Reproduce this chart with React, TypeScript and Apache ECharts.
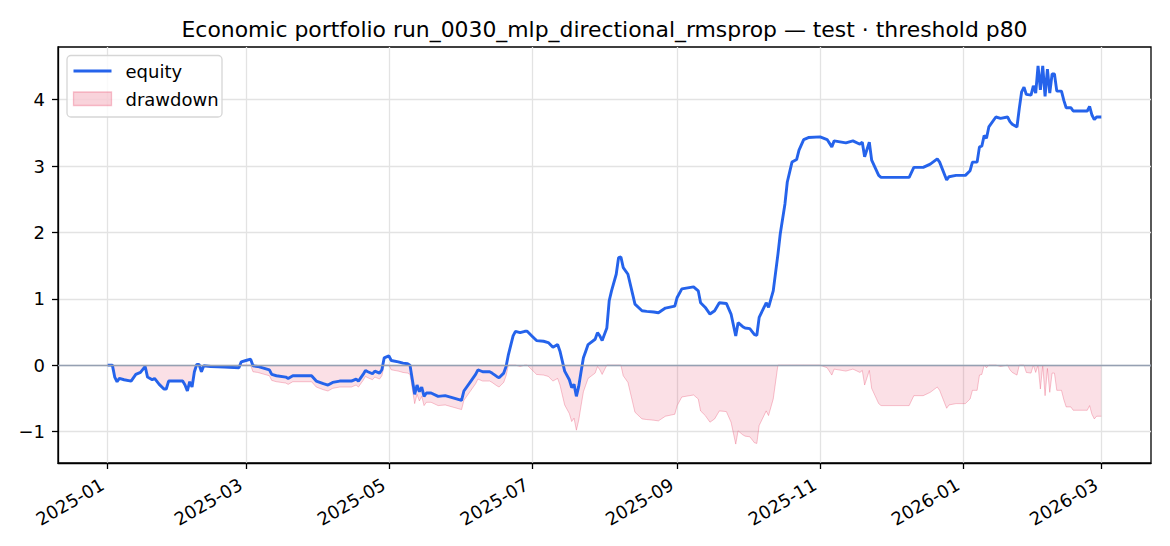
import React, { useEffect, useRef } from "react";
import * as echarts from "echarts";

// ---- data ----
const START_DATE = "2025-01-01";
// days since START_DATE
const dayOffsets = [
  0, 2, 3, 4, 5, 7, 10, 12, 14, 16, 17, 19, 20, 22, 24, 25, 26, 32, 33, 34, 35, 36, 37, 38, 39, 40, 41,
  44, 50, 56, 57, 59, 61, 62, 64, 69, 70, 72, 76, 77, 79, 87, 89, 92, 94, 96, 99, 104, 106, 107, 109,
  110, 111, 113, 114, 116, 117, 118, 120, 121, 124, 126, 128, 129, 130, 131, 132, 133, 134, 135, 136,
  138, 141, 144, 147, 151, 152, 155, 157, 158, 160, 163, 164, 166, 167, 169, 170, 171, 173, 174, 176,
  178, 179, 181, 183, 186, 188, 190, 192, 193, 194, 195, 197, 198, 199, 200, 201, 202, 203, 204, 205,
  208, 209, 210, 211, 213, 214, 215, 217, 218, 219, 220, 222, 224, 225, 228, 230, 233, 235, 238, 242,
  243, 245, 250, 252, 253, 255, 257, 259, 261, 264, 266, 268, 269, 271, 272, 274, 276, 277, 278, 281,
  282, 284, 286, 287, 289, 290, 291, 292, 294, 295, 297, 299, 304, 307, 309, 310, 315, 318, 321, 322,
  323, 325, 326, 329, 330, 342, 344, 348, 351, 354, 355, 358, 359, 362, 366, 368, 369, 371, 372, 373,
  374, 375, 376, 379, 381, 384, 385, 386, 388, 389, 390, 391, 392, 394, 395, 396, 397, 398, 399, 400,
  401, 402, 403, 404, 405, 407, 408, 409, 411, 412, 418, 419, 420, 421, 422, 424,
];
const equity = [
  0.0, 0.0, -0.18, -0.25, -0.2, -0.22, -0.24, -0.14, -0.11, -0.02, -0.18, -0.22, -0.2, -0.29, -0.36, -0.36, -0.24, -0.24, -0.3, -0.39, -0.25, -0.33, -0.1, 0.01, 0.01, -0.1, -0.01,
  -0.02, -0.03, -0.04, 0.05, 0.07, 0.09, -0.01, -0.02, -0.07, -0.14, -0.16, -0.18, -0.2, -0.16, -0.16, -0.24, -0.28, -0.3, -0.26, -0.24, -0.24, -0.21, -0.24, -0.14,
  -0.08, -0.1, -0.13, -0.09, -0.12, -0.07, 0.11, 0.14, 0.07, 0.05, 0.03, 0.02, 0.0, -0.22, -0.44, -0.3, -0.4, -0.33, -0.47, -0.42,
  -0.42, -0.47, -0.46, -0.49, -0.53, -0.39, -0.24, -0.14, -0.07, -0.1, -0.1, -0.12, -0.17, -0.19, -0.12, -0.02, 0.16, 0.44, 0.51, 0.49,
  0.51, 0.51, 0.44, 0.37, 0.36, 0.34, 0.27, 0.31, 0.21, 0.06, -0.09, -0.22, -0.34, -0.29, -0.47, -0.32, -0.1, 0.11, 0.21, 0.31,
  0.39, 0.49, 0.44, 0.37, 0.56, 0.97, 1.12, 1.37, 1.62, 1.63, 1.47, 1.37, 1.07, 0.92, 0.82, 0.81, 0.8, 0.79, 0.86, 0.89,
  1.02, 1.15, 1.18, 1.12, 0.94, 0.87, 0.77, 0.82, 0.94, 0.93, 0.77, 0.44, 0.64, 0.58, 0.56, 0.55, 0.46, 0.45, 0.72, 0.94,
  0.87, 1.12, 1.67, 1.98, 2.43, 2.76, 2.91, 3.06, 3.1, 3.24, 3.4, 3.43, 3.44, 3.4, 3.29, 3.38, 3.35, 3.38, 3.33, 3.36,
  3.14, 3.36, 3.09, 2.86, 2.83, 2.83, 2.98, 2.98, 3.03, 3.11, 3.06, 2.79, 2.84, 2.86, 2.86, 2.93, 3.06, 3.06, 3.29, 3.3,
  3.46, 3.42, 3.59, 3.74, 3.72, 3.74, 3.67, 3.63, 3.59, 3.87, 4.12, 4.19, 4.08, 4.07, 4.21, 4.1, 4.51, 4.15, 4.51, 4.05,
  4.46, 4.1, 4.39, 4.39, 4.13, 4.13, 3.99, 3.88, 3.88, 3.83, 3.83, 3.9, 3.77, 3.7, 3.74, 3.74,
];
const xTickDates = [
  "2025-01-01", "2025-03-01", "2025-05-01", "2025-07-01",
  "2025-09-01", "2025-11-01", "2026-01-01", "2026-03-01",
];
const yTicks = [-1, 0, 1, 2, 3, 4];
const TITLE = "Economic portfolio run_0030_mlp_directional_rmsprop \u2014 test \u00b7 threshold p80";
const LEGEND_LABELS = ["equity", "drawdown"];

// ---- styles ----
const FONT = "DejaVu Sans";
const BLUE = "#2563eb";
const PINK_FILL = "rgba(232,72,105,0.24)";
const PINK_EDGE = "rgba(232,72,105,0.32)";
const GRID_COLOR = "#e3e3e3";
const DAY_MS = 86400000;

const parseDate = (s: string) => Date.parse(s + "T00:00:00Z");
const fmtMonth = (v: number) => {
  const d = new Date(v);
  return d.getUTCFullYear() + "-" + String(d.getUTCMonth() + 1).padStart(2, "0");
};

export default function App() {
  const ref = useRef<HTMLDivElement>(null);

  useEffect(() => {
    document.body.style.margin = "0";
    if (!ref.current) return;
    const chart = echarts.init(ref.current, null, { renderer: "svg" });

    const t0 = parseDate(START_DATE);
    const times = dayOffsets.map((d) => t0 + d * DAY_MS);
    const eqData = times.map((t, i) => [t, equity[i]]);
    let peak = -Infinity;
    const ddData = times.map((t, i) => {
      peak = Math.max(peak, equity[i]);
      return [t, +(equity[i] - peak).toFixed(4)];
    });
    const tickTimes = xTickDates.map(parseDate);
    const span = times[times.length - 1] - times[0];
    const xMin = times[0] - 0.05 * span;
    const xMax = times[times.length - 1] + 0.05 * span;
    const all = equity.concat(ddData.map((d) => d[1] as number));
    const vMin = Math.min(...all);
    const vMax = Math.max(...all);
    const vSpan = vMax - vMin;
    const yMin = vMin - 0.05 * vSpan;
    const yMax = vMax + 0.05 * vSpan;

    chart.setOption({
      animation: false,
      grid: {
        left: 58,
        right: 19,
        top: 47,
        bottom: 83,
        show: true,
        borderColor: "#000",
        borderWidth: 1.3,
        backgroundColor: "transparent",
      },
      xAxis: {
        type: "value",
        min: xMin,
        max: xMax,
        scale: true,
        axisLine: { show: true, onZero: false, lineStyle: { color: "#000", width: 1.3 } },
        axisTick: { show: true, customValues: tickTimes, length: 6, lineStyle: { color: "#000", width: 1.3 } },
        axisLabel: {
          customValues: tickTimes,
          formatter: (v: number) => fmtMonth(v),
          rotate: 30,
          fontSize: 18,
          fontFamily: FONT,
          color: "#000",
          margin: 17,
          padding: [0, 6, 0, 0],
        },
        splitLine: { show: true, lineStyle: { color: GRID_COLOR, width: 1.3 } },
      },
      yAxis: {
        type: "value",
        min: yMin,
        max: yMax,
        axisLine: { show: true, onZero: false, lineStyle: { color: "#000", width: 1.3 } },
        axisTick: { show: true, customValues: yTicks, length: 6, lineStyle: { color: "#000", width: 1.3 } },
        axisLabel: {
          customValues: yTicks,
          fontSize: 18,
          fontFamily: FONT,
          color: "#000",
          margin: 13,
          formatter: (v: number) => (v < 0 ? "\u2212" + Math.abs(v) : String(v)),
        },
        splitLine: { show: true, lineStyle: { color: GRID_COLOR, width: 1.3 } },
      },
      series: [
        {
          name: LEGEND_LABELS[1],
          type: "line",
          data: ddData,
          symbol: "none",
          z: 1,
          lineStyle: { width: 1, color: PINK_EDGE },
          areaStyle: { color: PINK_FILL },
          markLine: {
            silent: true,
            symbol: ["none", "none"],
            label: { show: false },
            lineStyle: { color: "#95a0b2", width: 1.3, type: "solid" },
            data: [{ yAxis: 0 }],
          },
        },
        {
          name: LEGEND_LABELS[0],
          type: "line",
          data: eqData,
          symbol: "none",
          z: 3,
          lineStyle: { width: 2.9, color: BLUE },
        },
      ],
      graphic: [
        {
          type: "text",
          x: 604.5,
          y: 29,
          z: 100,
          style: {
            text: TITLE,
            fontSize: 21.9,
            fontFamily: FONT,
            fill: "#000",
            textAlign: "center",
            textVerticalAlign: "middle",
          },
        },
        {
          type: "rect",
          z: 100,
          shape: { x: 67, y: 55.5, width: 155, height: 61.5, r: 4 },
          style: { fill: "rgba(255,255,255,0.8)", stroke: "#d6d6d6", lineWidth: 1.3 },
        },
        {
          type: "line",
          z: 101,
          shape: { x1: 73.5, y1: 71, x2: 111.5, y2: 71 },
          style: { stroke: BLUE, lineWidth: 2.9 },
        },
        {
          type: "rect",
          z: 101,
          shape: { x: 73.5, y: 92, width: 38, height: 13.5 },
          style: { fill: PINK_FILL, stroke: PINK_EDGE, lineWidth: 1.3 },
        },
        {
          type: "text",
          x: 125.5,
          y: 71,
          z: 101,
          style: {
            text: LEGEND_LABELS[0],
            fontSize: 18,
            fontFamily: FONT,
            fill: "#000",
            textAlign: "left",
            textVerticalAlign: "middle",
          },
        },
        {
          type: "text",
          x: 125.5,
          y: 99,
          z: 101,
          style: {
            text: LEGEND_LABELS[1],
            fontSize: 18,
            fontFamily: FONT,
            fill: "#000",
            textAlign: "left",
            textVerticalAlign: "middle",
          },
        },
      ],
    });

    return () => chart.dispose();
  }, []);

  return <div ref={ref} style={{ width: 1170, height: 546 }} />;
}
